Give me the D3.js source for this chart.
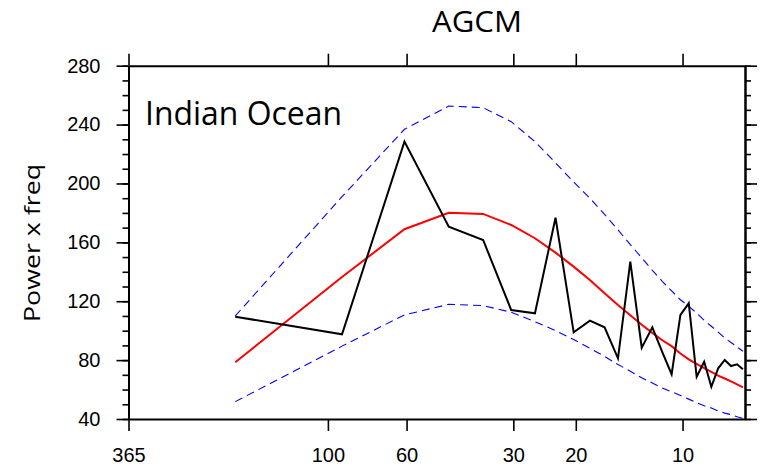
<!DOCTYPE html>
<html>
<head>
<meta charset="utf-8">
<script src="https://cdn.jsdelivr.net/npm/d3@7"></script>
<style>
  body { margin: 0; background: #fff; }
  svg { display: block; }
</style>
</head>
<body>
<script>
// harmonics (cycles per 365 days)
const harmonics = [2,4,6,8,10,12,14,16,18,20,22,24,26,28,30,32,34,36,38,40,42,44,46,48,50,52,54];
const spectrum  = [109.5,97.5,228.4,170.6,161.6,114.0,111.8,176.7,98.9,106.8,102.3,81.2,146.9,88.4,102.3,85.5,70.4,110.7,118.6,68.7,78.9,61.9,74.4,80.1,76.0,77.2,73.8];
const rednoise  = [78.5,136.5,168.9,180.1,179.3,171.8,162.8,153.0,143.5,134.4,125.5,117.5,110.5,104.0,98.5,93.5,89.5,84.5,80.5,77.5,74.5,72.0,69.5,67.5,65.5,63.5,61.5];
const upper95   = [110.0,191.0,236.8,252.6,251.5,242.0,228.4,214.0,201.0,190.0,179.0,168.5,158.5,149.5,141.0,133.5,127.0,121.0,116.5,112.0,107.0,103.0,99.0,95.0,92.0,89.0,86.0];
const lower05   = [51.8,89.5,110.7,117.9,117.0,112.5,106.1,100.0,94.0,88.0,82.5,77.0,72.5,68.0,64.5,61.0,58.5,56.0,53.5,51.0,49.0,47.5,45.5,44.0,43.0,41.5,40.5];
const periodTicks = [365,100,60,30,20,10];
const yTicks = [40,80,120,160,200,240,280];
const yMinor = d3.range(40, 281, 10);

const W = 767, H = 467;
const mLeft = 128.5, mRight = 745, mTop = 65.7, mBottom = 419;

const svg = d3.select("body").append("svg")
  .attr("width", W).attr("height", H);

const x = d3.scaleLog().domain([1/365, 0.15]).range([mLeft, mRight]);
const y = d3.scaleLinear().domain([40, 280]).range([mBottom, mTop]);

const freq = harmonics.map(k => k / 365);

function series(vals) { return vals.map((v, i) => [freq[i], v]); }
const line = d3.line().x(d => x(d[0])).y(d => y(d[1]));

// lines
svg.append("path").datum(series(upper95))
  .attr("d", line).attr("fill", "none")
  .attr("stroke", "#0000ff").attr("stroke-width", 1.1).attr("stroke-dasharray", "8,5");
svg.append("path").datum(series(lower05))
  .attr("d", line).attr("fill", "none")
  .attr("stroke", "#0000ff").attr("stroke-width", 1.1).attr("stroke-dasharray", "8,5");
svg.append("path").datum(series(rednoise))
  .attr("d", line).attr("fill", "none")
  .attr("stroke", "#ff0000").attr("stroke-width", 2);
svg.append("path").datum(series(spectrum))
  .attr("d", line).attr("fill", "none")
  .attr("stroke", "#000").attr("stroke-width", 2);

// axes
const tickFont = "'Liberation Sans', Arial, sans-serif";

svg.append("g")
  .attr("transform", `translate(0,${mBottom})`)
  .call(d3.axisBottom(x).tickValues(periodTicks.map(p => 1/p))
    .tickFormat((d, i) => periodTicks[i]).tickSize(12).tickSizeOuter(0).tickPadding(17));
svg.append("g")
  .attr("transform", `translate(0,${mTop})`)
  .call(d3.axisTop(x).tickValues(periodTicks.map(p => 1/p))
    .tickFormat("").tickSize(12).tickSizeOuter(0));

svg.append("g")
  .attr("transform", `translate(${mLeft},0)`)
  .call(d3.axisLeft(y).tickValues(yMinor).tickFormat("").tickSize(6).tickSizeOuter(0));
svg.append("g")
  .attr("transform", `translate(${mLeft},0)`)
  .call(d3.axisLeft(y).tickValues(yTicks).tickSize(12).tickSizeOuter(0).tickPadding(16));
svg.append("g")
  .attr("transform", `translate(${mRight},0)`)
  .call(d3.axisRight(y).tickValues(yMinor).tickFormat("").tickSize(6).tickSizeOuter(0));
svg.append("g")
  .attr("transform", `translate(${mRight},0)`)
  .call(d3.axisRight(y).tickValues(yTicks).tickFormat("").tickSize(12).tickSizeOuter(0));

svg.selectAll(".domain").attr("stroke", "#000").attr("stroke-width", 2);
svg.selectAll(".tick line").attr("stroke", "#000").attr("stroke-width", 1.6);
svg.selectAll(".tick text")
  .attr("font-family", tickFont).attr("font-size", 20).attr("fill", "#000");

// texts
const labelFont = "'Open Sans', 'Noto Sans', sans-serif";
svg.append("text")
  .attr("x", 477).attr("y", 32).attr("text-anchor", "middle")
  .attr("font-family", labelFont).attr("font-size", 30)
  .attr("textLength", 90).attr("lengthAdjust", "spacingAndGlyphs")
  .text("AGCM");
svg.append("text")
  .attr("x", 145).attr("y", 125)
  .attr("font-family", labelFont).attr("font-size", 33)
  .attr("textLength", 197).attr("lengthAdjust", "spacingAndGlyphs")
  .text("Indian Ocean");
svg.append("text")
  .attr("transform", "translate(40,243) rotate(-90)")
  .attr("text-anchor", "middle")
  .attr("font-family", labelFont).attr("font-size", 22)
  .attr("textLength", 158).attr("lengthAdjust", "spacingAndGlyphs")
  .text("Power x freq");
</script>
</body>
</html>
